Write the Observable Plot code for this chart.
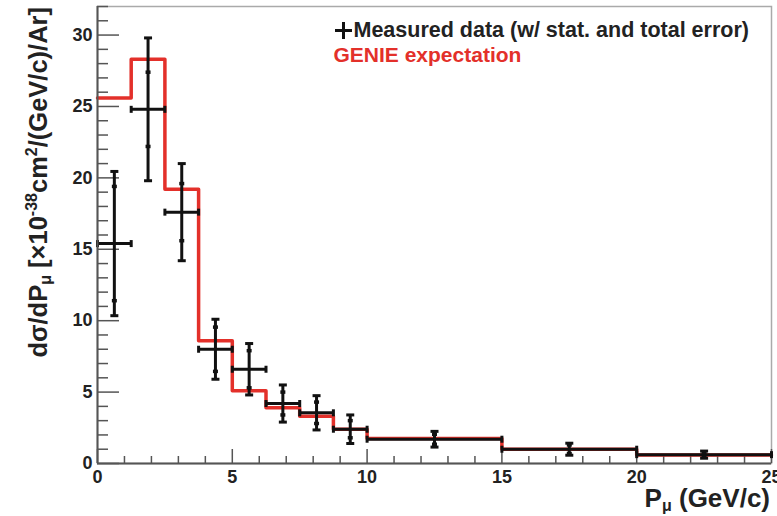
<!DOCTYPE html>
<html><head><meta charset="utf-8">
<script src="https://cdn.jsdelivr.net/npm/d3@7"></script>
<script src="https://cdn.jsdelivr.net/npm/@observablehq/plot@0.6"></script>
<style>body{margin:0;background:#fff} #chart{position:relative;width:777px;height:516px;overflow:hidden}</style>
</head><body><div id="chart"></div>
<script>
// ---- data ----
const binEdges   = [0, 1.25, 2.5, 3.75, 5, 6.25, 7.5, 8.75, 10, 15, 20, 25];
const genie      = [25.6, 28.3, 19.2, 8.6, 5.1, 3.9, 3.3, 2.4, 1.75, 1.0, 0.6];
const dataValue  = [15.4, 24.8, 17.6, 8.0, 6.6, 4.2, 3.55, 2.4, 1.7, 1.0, 0.62];
const statError  = [4.0, 2.6, 2.0, 1.55, 1.3, 0.8, 0.75, 0.6, 0.35, 0.3, 0.15];
const totalError = [5.05, 5.0, 3.4, 2.1, 1.8, 1.3, 1.2, 1.0, 0.55, 0.42, 0.25];
const xTicks = [0, 5, 10, 15, 20, 25];
const yTicks = [0, 5, 10, 15, 20, 25, 30];
const legendData  = "Measured data (w/ stat. and total error)";
const legendGenie = "GENIE expectation";

// ---- derived tables ----
const rows = dataValue.map((v, i) => ({
  lo: binEdges[i], hi: binEdges[i + 1], x: (binEdges[i] + binEdges[i + 1]) / 2,
  v, s: statError[i], t: totalError[i]
}));
const stepPts = binEdges.map((e, i) => ({x: e, y: genie[Math.min(i, genie.length - 1)]}));
const xMinor = d3.range(0, 26, 1).filter(v => !xTicks.includes(v));
const yMinor = d3.range(0, 33, 1).filter(v => !yTicks.includes(v));

const hCap = {draw(ctx, size) { const r = Math.sqrt(size / Math.PI); ctx.moveTo(-r, 0); ctx.lineTo(r, 0); }};
const vCap = {draw(ctx, size) { const r = Math.sqrt(size / Math.PI); ctx.moveTo(0, -r); ctx.lineTo(0, r); }};
const cross = {draw(ctx, size) { const r = Math.sqrt(size / Math.PI); ctx.moveTo(-r, 0); ctx.lineTo(r, 0); ctx.moveTo(0, -r); ctx.lineTo(0, r); }};

const W = 777, H = 516, mL = 97, mR = 6, mT = 6, mB = 53;
const fw = W - mL - mR, fh = H - mT - mB;
const ink = "#111", axisCol = "#555", red = "#e3302a";
const font = "'Liberation Sans', Arial, Helvetica, sans-serif";

const plot = Plot.plot({
  width: W, height: H, marginLeft: mL, marginRight: mR, marginTop: mT, marginBottom: mB,
  x: {domain: [0, 25]}, y: {domain: [0, 32]},
  style: {fontFamily: font, background: "#fff", color: "#222"},
  marks: [
    Plot.frame({stroke: "#aaa", strokeWidth: 1.5}),
    // inner ticks
    Plot.tickX(xTicks, {x: d => d, insetTop: fh - 14, stroke: axisCol, strokeWidth: 1.5}),
    Plot.tickX(xMinor, {x: d => d, insetTop: fh - 7, stroke: axisCol, strokeWidth: 1.5}),
    Plot.tickY(yTicks, {y: d => d, insetRight: fw - 22, stroke: axisCol, strokeWidth: 1.5}),
    Plot.tickY(yMinor, {y: d => d, insetRight: fw - 11, stroke: axisCol, strokeWidth: 1.5}),
    // GENIE histogram
    Plot.line(stepPts, {x: "x", y: "y", curve: "step-after", stroke: red, strokeWidth: 3.5}),
    // data error bars
    Plot.ruleX(rows, {x: "x", y1: d => d.v - d.t, y2: d => d.v + d.t, stroke: ink, strokeWidth: 3}),
    Plot.ruleY(rows, {y: "v", x1: "lo", x2: "hi", stroke: ink, strokeWidth: 3}),
    Plot.dot(rows, {x: "x", y: d => d.v + d.t, symbol: hCap, r: 4, fill: "none", stroke: ink, strokeWidth: 3}),
    Plot.dot(rows, {x: "x", y: d => d.v - d.t, symbol: hCap, r: 4, fill: "none", stroke: ink, strokeWidth: 3}),
    Plot.dot(rows, {x: "x", y: d => d.v + d.s, symbol: hCap, r: 2.5, fill: "none", stroke: ink, strokeWidth: 3.5}),
    Plot.dot(rows, {x: "x", y: d => d.v - d.s, symbol: hCap, r: 2.5, fill: "none", stroke: ink, strokeWidth: 3.5}),
    Plot.dot(rows, {x: "lo", y: "v", symbol: vCap, r: 3.5, fill: "none", stroke: ink, strokeWidth: 3}),
    Plot.dot(rows, {x: "hi", y: "v", symbol: vCap, r: 3.5, fill: "none", stroke: ink, strokeWidth: 3}),
    // axis lines
    Plot.ruleX([0], {stroke: axisCol, strokeWidth: 2}),
    Plot.ruleY([0], {stroke: axisCol, strokeWidth: 2}),
    // axis labels
    Plot.axisX(xTicks, {tickSize: 0, tickPadding: 7, fontSize: 18, fontWeight: "bold", label: null}),
    Plot.axisY(yTicks, {tickSize: 0, tickPadding: 5, fontSize: 18, fontWeight: "bold", label: null}),
    // legend
    Plot.dot([0], {frameAnchor: "top-left", dx: 246, dy: 24, symbol: cross, r: 8.5, fill: "none", stroke: ink, strokeWidth: 3}),
    Plot.text([legendData], {text: d => d, frameAnchor: "top-left", dx: 256, dy: 24, textAnchor: "start", lineAnchor: "middle", fontSize: 21.5, fontWeight: "bold", fill: "#222"}),
    Plot.text([legendGenie], {text: d => d, frameAnchor: "top-left", dx: 236, dy: 49, textAnchor: "start", lineAnchor: "middle", fontSize: 21, fontWeight: "bold", fill: red})
  ]
});
document.getElementById("chart").appendChild(plot);

// axis titles with sub/superscripts
const svg = d3.select(plot);
const yt = svg.append("text")
  .attr("transform", "translate(47,7) rotate(-90)")
  .attr("text-anchor", "end")
  .attr("font-family", font).attr("font-weight", "bold").attr("font-size", 25.5).attr("fill", "#222");
yt.append("tspan").text("dσ/dP");
yt.append("tspan").attr("font-size", 16).attr("baseline-shift", "-25%").text("μ");
yt.append("tspan").text(" [×10");
yt.append("tspan").attr("font-size", 16).attr("baseline-shift", "60%").text("-38");
yt.append("tspan").text("cm");
yt.append("tspan").attr("font-size", 16).attr("baseline-shift", "60%").text("2");
yt.append("tspan").text("/(GeV/c)/Ar]");

const xt = svg.append("text")
  .attr("x", 770).attr("y", 507)
  .attr("text-anchor", "end")
  .attr("font-family", font).attr("font-weight", "bold").attr("font-size", 26).attr("fill", "#222");
xt.append("tspan").text("P");
xt.append("tspan").attr("font-size", 16).attr("baseline-shift", "-25%").text("μ");
xt.append("tspan").text(" (GeV/c)");
</script>
</body></html>
